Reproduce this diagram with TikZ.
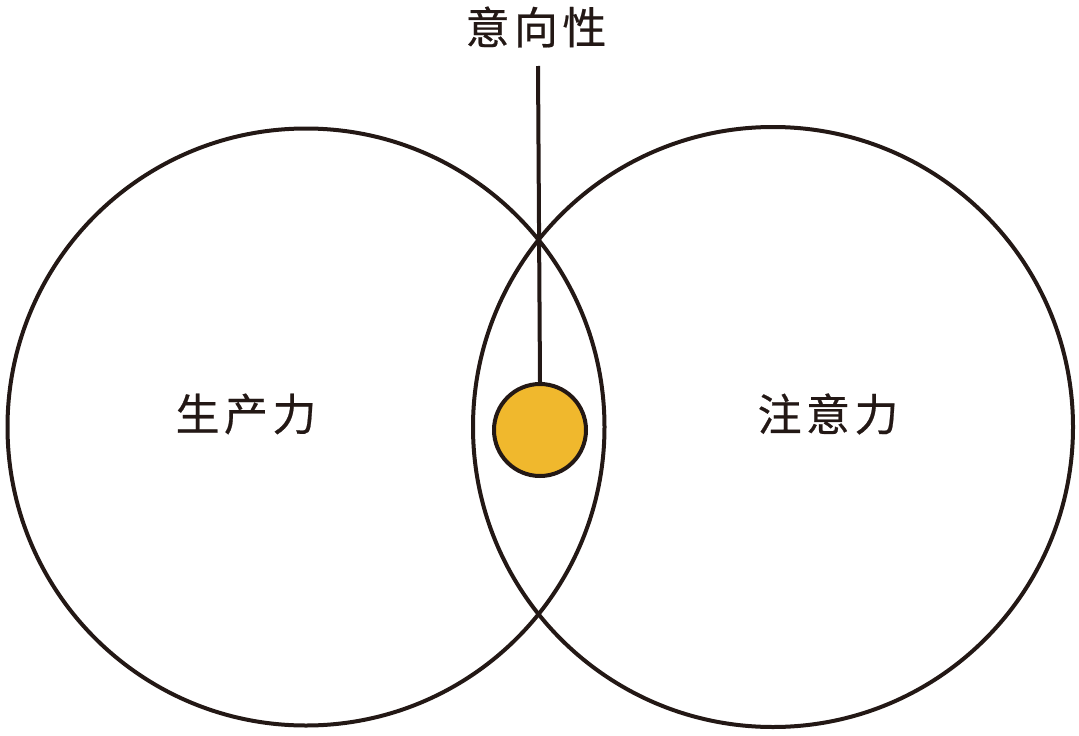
\documentclass[tikz,border=0pt]{standalone}
\usepackage{fontspec}
\newfontfamily\cjk{Noto Sans CJK SC}[LetterSpace=10]
\definecolor{ink}{HTML}{231815}
\definecolor{sun}{HTML}{F0B82D}
\begin{document}
\begin{tikzpicture}[x=1pt,y=-1pt,
  ring/.style={draw=ink,line width=4pt},
  lbl/.style={font=\cjk\fontsize{44}{46}\selectfont\addfontfeature{FakeBold=0.5},text=ink,inner sep=0pt}]
\useasboundingbox (0,0) rectangle (1079,736);
\node[ring,circle,minimum size=597pt,inner sep=0pt] (L) at (306,427) {};
\node[ring,circle,minimum size=600pt,inner sep=0pt] (R) at (773,427) {};
\node[ring,circle,fill=sun,minimum size=92pt,inner sep=0pt] (dot) at (540,430) {};
\node[lbl] (top) at (536,27) {意向性};
\coordinate (lineTop) at (538,66);
\draw[draw=ink,line width=4pt] (lineTop) -- (dot.north);
\node[lbl] (prod) at (246,414) {生产力};
\node[lbl] (attn) at (828,414) {注意力};
\end{tikzpicture}
\end{document}
